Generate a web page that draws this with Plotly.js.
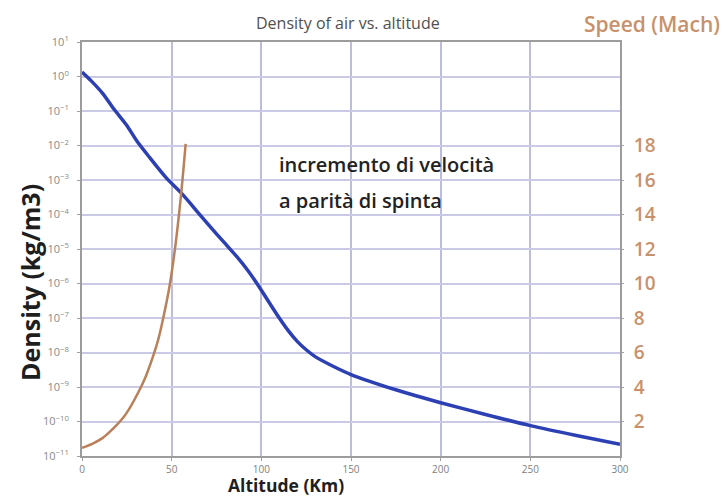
<!DOCTYPE html>
<html>
<head>
<meta charset="utf-8">
<script src="https://cdn.plot.ly/plotly-3.0.1.min.js"></script>
<style>
  html, body { margin: 0; padding: 0; background: #ffffff; }
  #chart { width: 728px; height: 500px; }
</style>
</head>
<body>
<div id="chart"></div>
<script>
// Air density profile (kg/m3) against altitude (km)
const densityAltitude = [0, 5, 11.6, 18, 24.7, 31, 37.7, 47, 56.3, 64, 71.2, 79, 86.1, 93, 99.2, 105, 110, 115, 120, 125, 130, 140, 150, 175, 200, 225, 250, 275, 300];
const densityValues = [1.35, 0.76, 0.32, 0.11, 0.04, 0.0126, 0.0045, 1.15e-3, 3.7e-4, 1.26e-4, 4.6e-5, 1.6e-5, 6.2e-6, 2.2e-6, 7.4e-7, 2.5e-7, 1.0e-7, 4.3e-8, 2.1e-8, 1.2e-8, 7.6e-9, 4.0e-9, 2.3e-9, 8.3e-10, 3.5e-10, 1.6e-10, 7.6e-11, 4.0e-11, 2.2e-11];

// Speed (Mach) reached at the same thrust, against altitude (km)
const speedAltitude = [0, 6, 11.6, 17, 22.8, 27, 31.2, 35.5, 39.6, 42.5, 45.1, 48.9, 52.2, 55, 57.8];
const speedMach = [0.47, 0.72, 1.05, 1.55, 2.2, 2.85, 3.65, 4.6, 5.77, 6.75, 7.9, 9.9, 12.3, 14.9, 18.1];

// Axis ticks
const densityExponents = [1, 0, -1, -2, -3, -4, -5, -6, -7, -8, -9, -10, -11];
const altitudeTicks = [0, 50, 100, 150, 200, 250, 300];
const machTicks = [2, 4, 6, 8, 10, 12, 14, 16, 18];

const FONT = 'Open Sans, Noto Sans, sans-serif';
const BROWN = '#b9805a';
const BROWN_TEXT = '#c8916b';

const traces = [
  {
    x: densityAltitude,
    y: densityValues,
    type: 'scatter',
    mode: 'lines',
    line: { color: '#2c3fb3', width: 3.5, shape: 'spline', smoothing: 0.7 },
    yaxis: 'y',
    hoverinfo: 'skip'
  },
  {
    x: speedAltitude,
    y: speedMach,
    type: 'scatter',
    mode: 'lines',
    line: { color: BROWN, width: 2.5, shape: 'spline', smoothing: 1 },
    yaxis: 'y2',
    hoverinfo: 'skip'
  }
];

const layout = {
  width: 728,
  height: 500,
  margin: { l: 82, r: 108, t: 42, b: 44 },
  paper_bgcolor: '#ffffff',
  plot_bgcolor: '#ffffff',
  showlegend: false,
  font: { family: FONT },
  xaxis: {
    range: [0, 300],
    tickvals: altitudeTicks,
    ticktext: altitudeTicks.map(String),
    tickfont: { size: 10, color: '#808080' },
    showgrid: true,
    gridcolor: '#bcbcdc',
    gridwidth: 2,
    zeroline: false,
    showline: true,
    linecolor: '#9c9c9c',
    linewidth: 2,
    mirror: true,
    ticks: 'outside',
    ticklen: 3,
    tickcolor: '#a0a0a0'
  },
  yaxis: {
    type: 'log',
    range: [-11, 1],
    tickvals: densityExponents.map(e => Math.pow(10, e)),
    ticktext: densityExponents.map(e => '10<sup>' + String(e).replace('-', '\u2212') + '</sup>'),
    tickfont: { size: 11, color: '#8a8a8a' },
    ticklabelstandoff: 6,
    showgrid: true,
    gridcolor: '#cacae6',
    gridwidth: 2,
    zeroline: false,
    showline: true,
    linecolor: '#9c9c9c',
    linewidth: 2,
    mirror: true,
    ticks: 'outside',
    ticklen: 3,
    tickcolor: '#a0a0a0'
  },
  yaxis2: {
    overlaying: 'y',
    side: 'right',
    range: [0, 24],
    tickvals: machTicks,
    ticktext: machTicks.map(String),
    tickfont: { size: 19, color: BROWN_TEXT, family: FONT, weight: 600 },
    ticklabelstandoff: 6,
    showgrid: false,
    zeroline: false,
    showline: false,
    ticks: 'outside',
    ticklen: 3,
    tickcolor: '#a0a0a0'
  },
  shapes: [
    {
      type: 'rect', xref: 'paper', yref: 'paper', layer: 'below',
      x0: 0.363, x1: 0.866, y0: 0.582, y1: 0.744,
      fillcolor: '#ffffff', line: { width: 0 }
    }
  ],
  annotations: [
    {
      text: 'Density of air vs. altitude',
      xref: 'paper', yref: 'paper', x: 0.495, y: 1.045,
      xanchor: 'center', yanchor: 'middle', showarrow: false,
      font: { size: 16, color: '#505050', family: FONT }
    },
    {
      text: 'Speed (Mach)',
      xref: 'paper', yref: 'paper', x: 1.19, y: 1.043,
      xanchor: 'right', yanchor: 'middle', showarrow: false,
      font: { size: 21, color: BROWN_TEXT, family: FONT, weight: 600 }
    },
    {
      text: 'incremento di velocità',
      xref: 'paper', yref: 'paper', x: 0.362, y: 0.703,
      xanchor: 'left', yanchor: 'middle', showarrow: false,
      font: { size: 20, color: '#222222', family: FONT, weight: 600 }
    },
    {
      text: 'a parità di spinta',
      xref: 'paper', yref: 'paper', x: 0.362, y: 0.618,
      xanchor: 'left', yanchor: 'middle', showarrow: false,
      font: { size: 20, color: '#222222', family: FONT, weight: 600 }
    },
    {
      text: 'Altitude (Km)',
      xref: 'paper', yref: 'paper', x: 0.380, y: -0.105,
      xanchor: 'center', yanchor: 'bottom', showarrow: false,
      font: { size: 17.5, color: '#1e1e1e', family: FONT, weight: 700 }
    },
    {
      text: 'Density (kg/m3)',
      xref: 'paper', yref: 'paper', x: -0.097, y: 0.42,
      xanchor: 'center', yanchor: 'middle', showarrow: false, textangle: -90,
      font: { size: 25, color: '#1e1e1e', family: FONT, weight: 700 }
    }
  ]
};

Plotly.newPlot('chart', traces, layout, { staticPlot: true, displayModeBar: false });
</script>
</body>
</html>
